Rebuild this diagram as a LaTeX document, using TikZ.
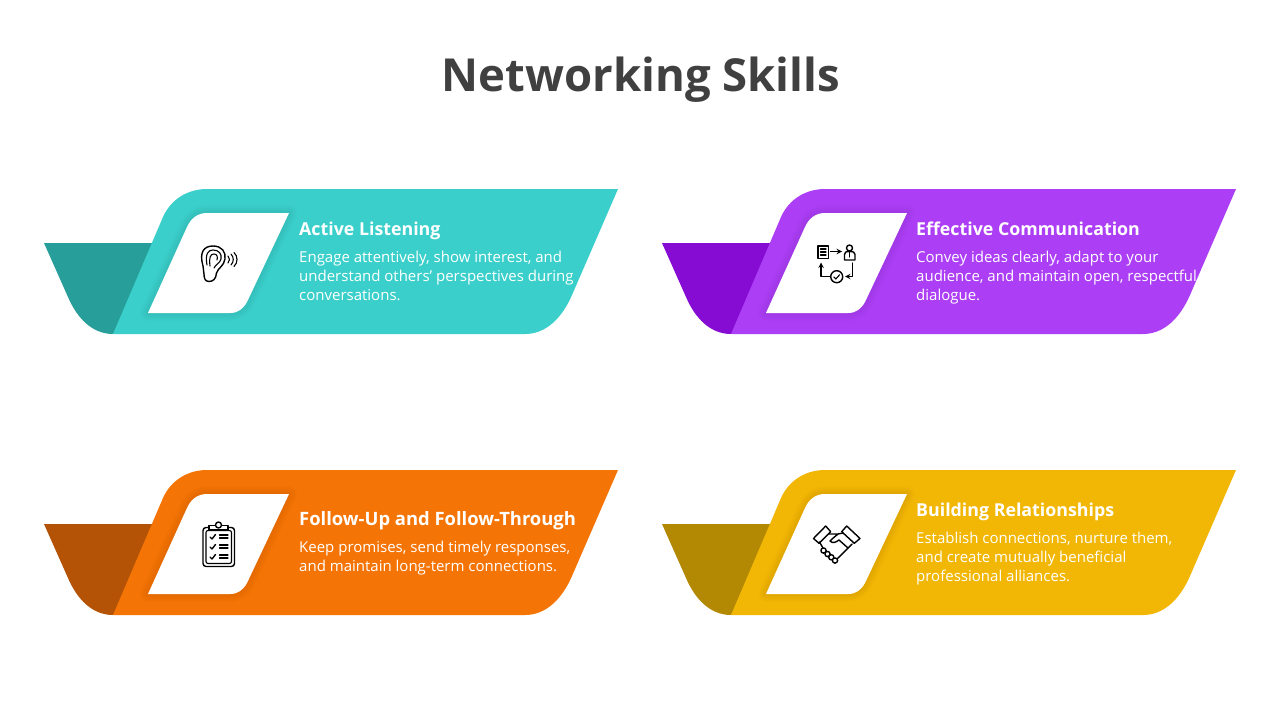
\documentclass[tikz,border=0pt]{standalone}
\usepackage{fontspec}
\setmainfont{Open Sans}
\definecolor{tealA}{HTML}{3ACFCB}
\definecolor{tealB}{HTML}{279E99}
\definecolor{purpleA}{HTML}{AC3EF5}
\definecolor{purpleB}{HTML}{860CD3}
\definecolor{orangeA}{HTML}{F47405}
\definecolor{orangeB}{HTML}{B45305}
\definecolor{yellowA}{HTML}{F2B705}
\definecolor{yellowB}{HTML}{B38803}
\definecolor{titlegray}{HTML}{404040}
\tikzset{
	cardhead/.style={anchor=base west,text=white,font=\fontsize{17.8}{22}\selectfont\bfseries,inner sep=0pt},
	cardtext/.style={anchor=north west,text=white,align=left,inner sep=0pt,font=\fontsize{15}{19}\selectfont},
	iconline/.style={draw=black,line width=1.4pt,fill=none},
	iconthin/.style={draw=black,line width=1.1pt,fill=none}
}
\begin{document}
\begin{tikzpicture}[x=1pt,y=-1pt,>=stealth,line join=round,line cap=round]
	\useasboundingbox (0,0) rectangle (1280,720);
	\fill[white] (0,0) rectangle (1280,720);
	\node (title) at (641,80) {\fontsize{45.5}{54}\selectfont\bfseries\color{titlegray}Networking Skills};
	% cards
	\foreach \px/\py/\cola/\colb in {0/0/tealA/tealB,618/0/purpleA/purpleB,0/281/orangeA/orangeB,618/281/yellowA/yellowB}{
		\begin{scope}[shift={(\px,\py)}]
			\fill[\colb] (44,243)--(170,243)--(113,334) .. controls (92,334) and (77,318) .. (68,297)--cycle;
			\fill[\cola] (113,334)--(163,217) .. controls (171,199) and (188,189) .. (207,189)--(618,189)--(572,295) .. controls (562,318) and (546,334) .. (525,334)--cycle;
			% soft edge round the white box
			\foreach \w in {16,13,10,7,4}{
				\draw[black,opacity=0.012,line width=\w pt] (148,313)--(187,227) .. controls (191,218) and (198,213) .. (207,213)--(289,213)--(247,302) .. controls (243,309) and (238,313) .. (230,313)--cycle;
			}
			\fill[white] (148,313)--(187,227) .. controls (191,218) and (198,213) .. (207,213)--(289,213)--(247,302) .. controls (243,309) and (238,313) .. (230,313)--cycle;
		\end{scope}
	}
	% texts
	\node[cardhead] (head1) at (299,235) {Active Listening};
	\node[cardtext] (text1) at (299,251) {Engage attentively, show interest, and\\understand others' perspectives during\\conversations.};
	\node[cardhead] (head2) at (916,235) {Effective Communication};
	\node[cardtext] (text2) at (916,251) {Convey ideas clearly, adapt to your\\audience, and maintain open, respectful\\dialogue.};
	\node[cardhead,font=\fontsize{18.4}{22}\selectfont\bfseries] (head3) at (299,525) {Follow-Up and Follow-Through};
	\node[cardtext] (text3) at (299,541) {Keep promises, send timely responses,\\and maintain long-term connections.};
	\node[cardhead] (head4) at (916,516) {Building Relationships};
	\node[cardtext] (text4) at (916,532) {Establish connections, nurture them,\\and create mutually beneficial\\professional alliances.};
	% ear
	\draw[iconline] (203,266) .. controls (199,252) and (204,246) .. (213,246) .. controls (222,246) and (226,252) .. (225,259) .. controls (224,266) and (218,268) .. (216.5,273) .. controls (216,279) and (213,281.5) .. (209,281.5) .. controls (205,281.5) and (204,278) .. (204,274)--cycle;
	\draw[iconthin] (207,265) .. controls (205,254) and (208,250) .. (213,250) .. controls (219,250) and (222,254) .. (221,259) .. controls (220,263) and (216,264) .. (214,268);
	\draw[iconthin] (210,266) .. controls (209,258) and (210,254) .. (214,254) .. controls (217,254) and (218,257) .. (217,260);
	\draw[iconthin] (228,256) .. controls (230,258) and (230,261) .. (228,263);
	\draw[iconthin] (231,254) .. controls (234,257) and (234,262) .. (231,265);
	\draw[iconthin] (234,252.5) .. controls (238,256) and (238,263) .. (234,266.5);
	% flow
	\draw[iconline] (818,246) rectangle (828.5,258.5);
	\draw[iconthin] (820.5,249)--(826,249) (820.5,252)--(826,252) (820.5,255)--(826,255);
	\draw[iconline,->] (830.5,251.5)--(842,251.5);
	\draw[iconline] (849.5,248) circle (3);
	\draw[iconline] (844.5,260)--(844.5,254.5) .. controls (844.5,252) and (846,251.5) .. (849.5,251.5) .. controls (853,251.5) and (855,252) .. (855,254.5)--(855,260)--cycle;
	\draw[iconthin] (849.5,252)--(849.5,257);
	\draw[iconline,->] (852.5,263)--(852.5,276.5)--(845,276.5);
	\draw[iconline] (836.7,276.7) circle (6);
	\draw[iconthin] (833.8,277)--(835.8,279)--(839.6,274.8);
	\draw[iconline,->] (830,276.7)--(821,276.7)--(821,262.5);
	% clipboard
	\draw[iconline,rounded corners=3pt] (203,527.5) rectangle (234.5,566.5);
	\draw[iconthin,rounded corners=2pt] (206,530.5) rectangle (231.5,563.5);
	\draw[iconline,fill=white] (209,530) -- (209,525.5) -- (228,525.5) -- (228,530) -- cycle;
	\draw[iconline,fill=white] (218.5,525) circle (3);
	\foreach \iy in {537,547,557}{
		\draw[iconline] (210,\iy)--(212,\iy+2)--(215.5,\iy-2.5);
		\draw[iconthin] (219.5,\iy-2)--(228,\iy-2) (219.5,\iy+1)--(228,\iy+1);
	}
	% handshake
	\draw[iconline] (813.5,538.5)--(825.7,526)--(830.7,531.7)--(819,543.3)--cycle;
	\draw[iconline] (841.7,531.7)--(846.7,526)--(860,538.5)--(854.3,543.3)--cycle;
	\draw[iconline] (829,534)--(838,534)--(843,533) (819.5,542)--(823,548) (838,534)--(832,539)--(830,541) .. controls (833,544) and (836,542) .. (839,540)--(848,548)--(852,544);
	\draw[iconline] (848,548)--(843,553)--(838,558)--(835,560);
	\foreach \fx/\fy in {823.5/550.5,827.5/554,831.3/557.3,835/560.5}{
		\draw[iconline,fill=white] (\fx,\fy) circle (2.6);
	}
\end{tikzpicture}
\end{document}
